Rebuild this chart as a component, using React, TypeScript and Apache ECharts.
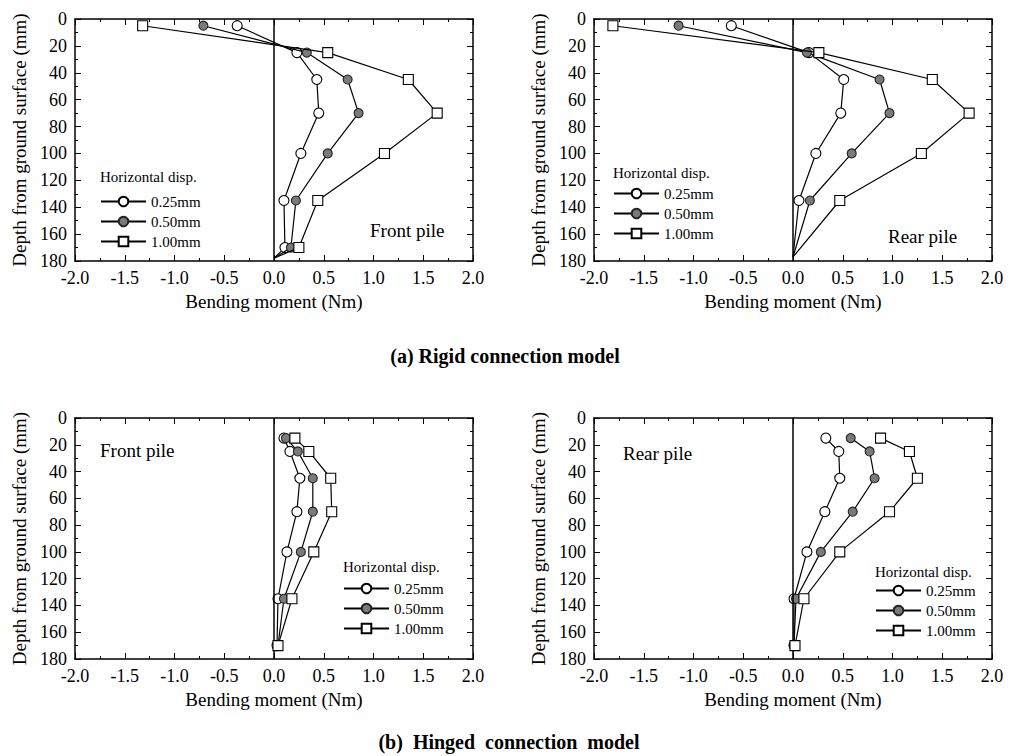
import React, { useEffect, useRef } from "react";
import * as echarts from "echarts";

const FONT = "Liberation Serif";

// Axis ticks
const xMin = -2;
const xMax = 2;
const xInterval = 0.5;
const xTickLabels = ["-2.0", "-1.5", "-1.0", "-0.5", "0.0", "0.5", "1.0", "1.5", "2.0"];
const yMin = 0;
const yMax = 180;
const yInterval = 20;
const yTickLabels = ["0", "20", "40", "60", "80", "100", "120", "140", "160", "180"];

const seriesNames = ["0.25mm", "0.50mm", "1.00mm"];

// (a) Rigid connection model — depths (mm)
const rigidFrontDepths = [5, 25, 45, 70, 100, 135, 170];
const rigidFront025 = [-0.37, 0.23, 0.43, 0.45, 0.27, 0.1, 0.11];
const rigidFront050 = [-0.71, 0.33, 0.74, 0.85, 0.54, 0.22, 0.17];
const rigidFront100 = [-1.32, 0.54, 1.35, 1.64, 1.11, 0.44, 0.25];
const rigidFrontTip = [0.0, 178];

const rigidRearDepths = [5, 25, 45, 70, 100, 135];
const rigidRear025 = [-0.62, 0.16, 0.51, 0.48, 0.23, 0.06];
const rigidRear050 = [-1.15, 0.14, 0.87, 0.97, 0.59, 0.17];
const rigidRear100 = [-1.81, 0.26, 1.4, 1.77, 1.29, 0.47];
const rigidRearTip = [0.0, 177];

// (b) Hinged connection model
const hingedDepths = [15, 25, 45, 70, 100, 135, 170];
const hingedFront025 = [0.1, 0.16, 0.26, 0.23, 0.13, 0.04, 0.03];
const hingedFront050 = [0.12, 0.24, 0.39, 0.39, 0.27, 0.1, 0.04];
const hingedFront100 = [0.21, 0.35, 0.57, 0.58, 0.4, 0.18, 0.04];

const hingedRear025 = [0.33, 0.46, 0.47, 0.32, 0.14, 0.01, 0.01];
const hingedRear050 = [0.58, 0.77, 0.82, 0.6, 0.28, 0.03, 0.01];
const hingedRear100 = [0.88, 1.17, 1.25, 0.97, 0.47, 0.11, 0.02];

const legendTitle = "Horizontal disp.";
const xAxisName = "Bending moment (Nm)";
const yAxisName = "Depth from ground surface (mm)";
const panelLabels = ["Front pile", "Rear pile", "Front pile", "Rear pile"];
const captions = ["(a) Rigid connection model", "(b)  Hinged  connection  model"];

// Each panel is its own chart instance in a 505x378 box
const boxes = [
  { left: 0, top: 0 },
  { left: 505, top: 0 },
  { left: 0, top: 378 },
  { left: 505, top: 378 },
];
const BOX_W = 505;
const BOX_H = 378;

const panelGrids = [
  { left: 75, top: 19, width: 398, height: 242 },
  { left: 89, top: 19, width: 398, height: 242 },
  { left: 75, top: 40, width: 398, height: 241 },
  { left: 89, top: 40, width: 398, height: 241 },
];
const legendPos = [
  { left: 100, top: 194 },
  { left: 108, top: 186 },
  { left: 343, top: 203 },
  { left: 370, top: 205 },
];
const legendTitlePos = [
  [100, 177],
  [108, 173],
  [343, 189],
  [370, 194],
];
const panelLabelPos = [
  [370, 230],
  [383, 236],
  [100, 72],
  [118, 75],
];

const markerStyles = [
  { symbol: "circle", symbolSize: 10, itemStyle: { color: "#ffffff", borderColor: "#000", borderWidth: 1.1 } },
  { symbol: "circle", symbolSize: 9, itemStyle: { color: "#7a7a7a", borderColor: "#222", borderWidth: 1.1 } },
  { symbol: "rect", symbolSize: 10, itemStyle: { color: "#ffffff", borderColor: "#000", borderWidth: 1.1 } },
];

const panels = [
  { depths: rigidFrontDepths, sets: [rigidFront025, rigidFront050, rigidFront100], tip: rigidFrontTip },
  { depths: rigidRearDepths, sets: [rigidRear025, rigidRear050, rigidRear100], tip: rigidRearTip },
  { depths: hingedDepths, sets: [hingedFront025, hingedFront050, hingedFront100], tip: null as number[] | null },
  { depths: hingedDepths, sets: [hingedRear025, hingedRear050, hingedRear100], tip: null as number[] | null },
];

function buildPanelOption(g: number) {
  const axisLine = { show: true, onZero: false, lineStyle: { color: "#000", width: 1.5 } };
  const axisTick = { show: true, inside: true, length: 6 };
  const minorTick = { show: true, splitNumber: 2, length: 3 };

  const xAxis = [
    {
      type: "value",
      min: xMin,
      max: xMax,
      interval: xInterval,
      position: "bottom",
      name: xAxisName,
      nameLocation: "middle",
      nameGap: 29,
      nameTextStyle: { fontFamily: FONT, fontSize: 19, color: "#000" },
      axisLine,
      axisTick,
      minorTick,
      splitLine: { show: false },
      axisLabel: {
        fontFamily: FONT,
        fontSize: 18,
        color: "#000",
        formatter: (v: number) => xTickLabels[Math.round((v - xMin) / xInterval)] ?? "",
      },
    },
    {
      type: "value",
      min: xMin,
      max: xMax,
      interval: xInterval,
      position: "top",
      axisLine,
      axisTick,
      minorTick,
      splitLine: { show: false },
      axisLabel: { show: false },
    },
  ];
  const yAxis = [
    {
      type: "value",
      inverse: true,
      min: yMin,
      max: yMax,
      interval: yInterval,
      position: "left",
      name: yAxisName,
      nameLocation: "middle",
      nameGap: 39,
      nameRotate: 90,
      nameTextStyle: { fontFamily: FONT, fontSize: 19, color: "#000" },
      axisLine,
      axisTick,
      minorTick,
      splitLine: { show: false },
      axisLabel: {
        fontFamily: FONT,
        fontSize: 18,
        color: "#000",
        formatter: (v: number) => yTickLabels[Math.round((v - yMin) / yInterval)] ?? "",
      },
    },
    {
      type: "value",
      inverse: true,
      min: yMin,
      max: yMax,
      interval: yInterval,
      position: "right",
      axisLine,
      axisTick,
      minorTick,
      splitLine: { show: false },
      axisLabel: { show: false },
    },
  ];

  const p = panels[g];
  const series: any[] = p.sets.map((vals, k) => {
    const data: any[] = vals.map((x, i) => [x, p.depths[i]]);
    if (p.tip) data.push({ value: p.tip, symbol: "none" });
    const s: any = {
      type: "line",
      name: seriesNames[k],
      xAxisIndex: 0,
      yAxisIndex: 0,
      data,
      ...markerStyles[k],
      showAllSymbol: true,
      lineStyle: { color: "#000", width: 1.2 },
      z: 3 + k,
    };
    if (k === 0) {
      s.markLine = {
        silent: true,
        symbol: ["none", "none"],
        label: { show: false },
        lineStyle: { color: "#000", width: 1.5, type: "solid" },
        data: [{ xAxis: 0 }],
      };
    }
    return s;
  });

  return {
    animation: false,
    grid: [panelGrids[g]],
    xAxis,
    yAxis,
    legend: [
      {
        orient: "vertical",
        left: legendPos[g].left,
        top: legendPos[g].top,
        padding: 0,
        itemWidth: 45,
        itemHeight: 12,
        itemGap: 5,
        selectedMode: false,
        data: seriesNames,
        textStyle: { fontFamily: FONT, fontSize: 15, color: "#000" },
      },
    ],
    series,
    graphic: [
      {
        type: "text",
        x: legendTitlePos[g][0],
        y: legendTitlePos[g][1],
        style: { text: legendTitle, fontFamily: FONT, fontSize: 15, fill: "#000", align: "left", verticalAlign: "middle" },
      },
      {
        type: "text",
        x: panelLabelPos[g][0],
        y: panelLabelPos[g][1],
        style: { text: panelLabels[g], fontFamily: FONT, fontSize: 19, fill: "#000", align: "left", verticalAlign: "middle" },
      },
    ],
  };
}

function buildCaptionOption() {
  return {
    animation: false,
    graphic: [
      {
        type: "text",
        x: 505,
        y: 356,
        style: { text: captions[0], fontFamily: FONT, fontSize: 20, fontWeight: "bold", fill: "#000", align: "center", verticalAlign: "middle" },
      },
      {
        type: "text",
        x: 509,
        y: 742,
        style: { text: captions[1], fontFamily: FONT, fontSize: 20, fontWeight: "bold", fill: "#000", align: "center", verticalAlign: "middle" },
      },
    ],
  };
}

export default function App() {
  const refs = [useRef<HTMLDivElement>(null), useRef<HTMLDivElement>(null), useRef<HTMLDivElement>(null), useRef<HTMLDivElement>(null)];
  const capRef = useRef<HTMLDivElement>(null);
  useEffect(() => {
    const charts: any[] = [];
    refs.forEach((r, g) => {
      if (!r.current) return;
      const c = echarts.init(r.current, undefined, { renderer: "svg" });
      c.setOption(buildPanelOption(g) as any);
      charts.push(c);
    });
    if (capRef.current) {
      const c = echarts.init(capRef.current, undefined, { renderer: "svg" });
      c.setOption(buildCaptionOption() as any);
      charts.push(c);
    }
    return () => charts.forEach((c) => c.dispose());
  }, []);
  return (
    <div style={{ position: "fixed", left: 0, top: 0, width: 1010, height: 756, background: "#fff" }}>
      {boxes.map((b, i) => (
        <div
          key={i}
          ref={refs[i]}
          style={{ position: "absolute", left: b.left, top: b.top, width: BOX_W, height: BOX_H }}
        />
      ))}
      <div
        ref={capRef}
        style={{ position: "absolute", left: 0, top: 0, width: 1010, height: 756, pointerEvents: "none" }}
      />
    </div>
  );
}
